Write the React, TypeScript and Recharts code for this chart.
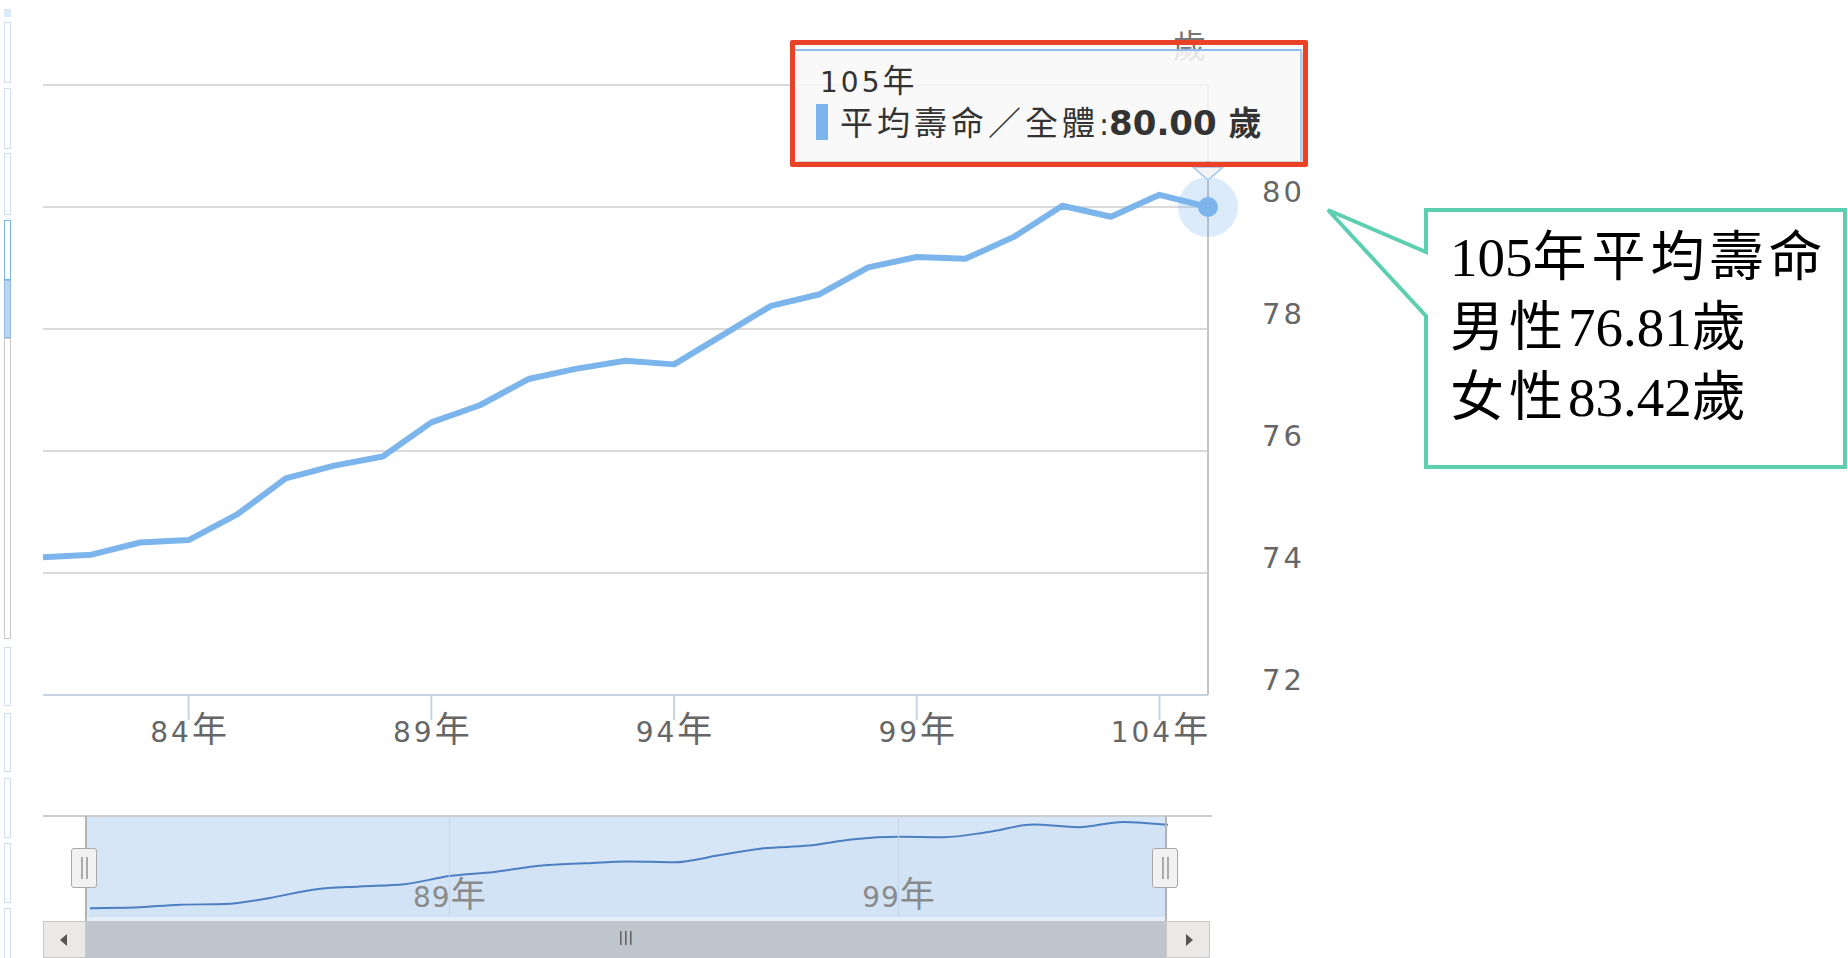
import React from "react";
import {
  LineChart, Line, AreaChart, Area, XAxis, YAxis, CartesianGrid,
  Tooltip, ReferenceLine,
} from "recharts";

// 平均壽命（全體），民國 81–105 年
const years = [
  "81年", "82年", "83年", "84年", "85年", "86年", "87年", "88年", "89年", "90年",
  "91年", "92年", "93年", "94年", "95年", "96年", "97年", "98年", "99年", "100年",
  "101年", "102年", "103年", "104年", "105年",
];
const lifeExpectancy = [
  74.26, 74.30, 74.50, 74.54, 74.96, 75.55, 75.76, 75.91, 76.47, 76.75,
  77.18, 77.35, 77.48, 77.42, 77.90, 78.38, 78.57, 79.01, 79.18, 79.15,
  79.51, 80.02, 79.84, 80.20, 80.00,
];
const xTicks = ["84年", "89年", "94年", "99年", "104年"];
const yTicks = [72, 74, 76, 78, 80, 82];
const navTicks = ["89年", "99年"];
const seriesName = "平均壽命／全體";
const unit = "歲";
const calloutLines = ["105年平均壽命", "男性76.81歲", "女性83.42歲"];

const data = years.map((year, i) => ({ year, value: lifeExpectancy[i] }));

const SANS = "'DejaVu Sans', 'Noto Sans CJK TC', sans-serif";
const CJK_FONT = "'Noto Sans CJK TC', sans-serif";
const SERIF = "'Liberation Serif', 'Noto Sans CJK TC', serif";

type Font = { fontFamily: string; fontSize: number; fontWeight?: number | string; letterSpacing?: number };

const CJK_RE = /[\u2E80-\u9FFF\uFF00-\uFFEF]/;
function splitRuns(text: string) {
  const out: { s: string; cjk: boolean }[] = [];
  for (const ch of text) {
    const c = CJK_RE.test(ch);
    const last = out[out.length - 1];
    if (last && last.cjk === c) last.s += ch;
    else out.push({ s: ch, cjk: c });
  }
  return out;
}

// latin in one font, CJK in another (the source renders them at different sizes)
function Mixed({ text, latin, cjk }: { text: string; latin: Font; cjk: Font }) {
  return (
    <>
      {splitRuns(text).map((r, i) => {
        const f = r.cjk ? cjk : latin;
        return (
          <tspan key={i} fontFamily={f.fontFamily} fontSize={f.fontSize}
            fontWeight={f.fontWeight ?? 400} letterSpacing={f.letterSpacing ?? 0}>
            {r.s}
          </tspan>
        );
      })}
    </>
  );
}

const axisLatin: Font = { fontFamily: SANS, fontSize: 28, letterSpacing: 3 };
const axisCjk: Font = { fontFamily: CJK_FONT, fontSize: 35 };

const XTick = (props: any) => {
  const { x, y, payload } = props;
  return (
    <text x={x} y={y} dy={22} textAnchor="middle" fill="#666">
      <Mixed text={payload.value} latin={axisLatin} cjk={axisCjk} />
    </text>
  );
};

const YTick = (props: any) => {
  const { x, y, payload } = props;
  if (payload.value === 82) return <g />;
  return (
    <text x={x + 54} y={y - 5} textAnchor="start" fill="#666"
      fontFamily={SANS} fontSize={29} letterSpacing={3}>
      {payload.value}
    </text>
  );
};

const ActiveDot = (props: any) => {
  const { cx, cy } = props;
  return (
    <g>
      <circle cx={cx} cy={cy} r={30} fill="#7cb5ec" fillOpacity={0.27} />
      <circle cx={cx} cy={cy} r={10} fill="#7cb5ec" />
    </g>
  );
};

const TipContent = (props: any) => {
  const { active, payload, label } = props;
  if (!active || !payload || !payload.length) return null;
  const v = Number(payload[0].value).toFixed(2);
  return (
    <div style={{ position: "relative", width: 518, height: 140 }}>
      <div style={{
        position: "absolute", left: 5, top: 9, width: 507, height: 112,
        background: "rgba(248,248,248,0.86)", borderTop: "2px solid #8dbdee",
        borderRight: "2px solid #a9cdf0", boxShadow: "2px 3px 4px rgba(0,0,0,0.2)",
        boxSizing: "border-box",
      }} />
      <svg width={518} height={140} style={{ position: "absolute", left: 0, top: 0, overflow: "visible" }}>
        <polygon points="403,127 418,140 433,127" fill="#f4f4f4" stroke="#9ec6ee" strokeWidth={1.5} />
        <text x={30} y={52} fill="#333">
          <Mixed text={String(label)} latin={axisLatin} cjk={{ fontFamily: CJK_FONT, fontSize: 32 }} />
        </text>
        <rect x={26} y={64} width={12} height={36} fill="#7cb5ec" />
        <text x={50} y={95} fill="#333">
          <tspan fontFamily={CJK_FONT} fontSize={33} letterSpacing={4}>{seriesName}</tspan>
          <tspan fontFamily={SANS} fontSize={30}>:</tspan>
          <tspan fontFamily={SANS} fontSize={34} fontWeight="bold">{v} </tspan>
          <tspan fontFamily={CJK_FONT} fontSize={33} fontWeight="bold">{unit}</tspan>
        </text>
      </svg>
      <div style={{
        position: "absolute", left: 0, top: 0, width: 518, height: 127,
        border: "5px solid #ea4127", boxSizing: "border-box", borderRadius: 2,
      }} />
    </div>
  );
};

const navLabel = (text: string) => (props: any) => {
  const vb = props.viewBox || {};
  return (
    <text x={vb.x} y={(vb.y ?? 0) + (vb.height ?? 0) - 10} textAnchor="middle" fill="#8a8a8a">
      <Mixed text={text} latin={{ ...axisLatin, letterSpacing: 1 }} cjk={axisCjk} />
    </text>
  );
};

// page decoration: edge of the neighbouring panel on the far left
const sideBoxes = [
  [9, 8, "#dbe9f8", "#dbe9f8"], [22, 61, "#fff", "#cfe0f3"], [88, 61, "#fff", "#cfe0f3"],
  [153, 62, "#fff", "#cfe0f3"], [220, 60, "#fff", "#7cb5ec"], [280, 58, "#bcd6ef", "#8fbbe6"],
  [338, 301, "#fff", "#c8c8c8"], [647, 59, "#fff", "#cfe0f3"], [713, 59, "#fff", "#cfe0f3"],
  [778, 60, "#fff", "#cfe0f3"], [843, 60, "#fff", "#cfe0f3"], [908, 60, "#fff", "#cfe0f3"],
] as const;

export default function App() {
  return (
    <div style={{ position: "absolute", left: 0, top: 0, width: 1848, height: 958, background: "#fff", overflow: "hidden" }}>
      {sideBoxes.map(([top, h, bg, bd], i) => (
        <div key={i} style={{ position: "absolute", left: 4, top, width: 7, height: h, background: bg, border: `1px solid ${bd}`, boxSizing: "border-box" }} />
      ))}

      {/* axis unit, partly hidden by the tooltip */}
      <div style={{ position: "absolute", left: 1173, top: 26, fontFamily: CJK_FONT, fontSize: 33, color: "#777", lineHeight: "36px" }}>{unit}</div>

      {/* main chart */}
      <div style={{ position: "absolute", left: 0, top: 0 }}>
        <LineChart width={1340} height={760} data={data} margin={{ top: 85, right: 32, bottom: 15, left: 43 }}>
          <CartesianGrid vertical={false} stroke="#dadada" strokeWidth={2} />
          <XAxis dataKey="year" ticks={xTicks} interval={0} height={50} tickSize={25} tickMargin={0}
            axisLine={{ stroke: "#c6d4e4", strokeWidth: 2 }} tickLine={{ stroke: "#c6d4e4", strokeWidth: 2 }}
            tick={XTick} />
          <YAxis orientation="right" domain={[72, 82]} ticks={yTicks} width={100} tickSize={0} tickMargin={0}
            axisLine={{ stroke: "#c4c4c4", strokeWidth: 2 }} tickLine={false} tick={YTick} />
          <Tooltip active defaultIndex={years.length - 1} position={{ x: 790, y: 40 }}
            cursor={false} isAnimationActive={false} content={TipContent} wrapperStyle={{ zIndex: 5 }} />
          <Line type="linear" dataKey="value" stroke="#7cb5ec" strokeWidth={6} dot={false}
            activeDot={ActiveDot} strokeLinejoin="round" isAnimationActive={false} />
        </LineChart>
      </div>

      {/* navigator */}
      <div style={{ position: "absolute", left: 43, top: 815, width: 1169, height: 2, background: "#cccccc" }} />
      <div style={{ position: "absolute", left: 86, top: 817, width: 1080, height: 100, background: "#d7e6f6" }} />
      <div style={{ position: "absolute", left: 86, top: 917, width: 1080, height: 4, background: "#e6eef8" }} />
      <div style={{ position: "absolute", left: 0, top: 780 }}>
        <AreaChart width={1260} height={160} data={data} margin={{ top: 36, right: 92, bottom: 23, left: 90 }}>
          <XAxis dataKey="year" hide />
          <YAxis hide domain={[73.65, 80.61]} />
          {navTicks.map((t) => (
            <ReferenceLine key={t} x={t} stroke="#c5d5e8" strokeWidth={1} label={navLabel(t)} />
          ))}
          <Area type="monotone" dataKey="value" stroke="#4b7fc2" strokeWidth={2}
            fill="#7cb5ec" fillOpacity={0.06} isAnimationActive={false} />
        </AreaChart>
      </div>
      <div style={{ position: "absolute", left: 85, top: 816, width: 2, height: 105, background: "#b4b4b4" }} />
      <div style={{ position: "absolute", left: 1165, top: 816, width: 2, height: 105, background: "#b4b4b4" }} />
      {[71, 1152].map((l) => (
        <div key={l} style={{ position: "absolute", left: l, top: 848, width: 26, height: 40, background: "#f1f1f1", border: "1px solid #a8a8a8", borderRadius: 3, boxSizing: "border-box" }}>
          <div style={{ position: "absolute", left: 9, top: 8, width: 2, height: 22, background: "#aaa" }} />
          <div style={{ position: "absolute", left: 14, top: 8, width: 2, height: 22, background: "#aaa" }} />
        </div>
      ))}

      {/* scrollbar */}
      <div style={{ position: "absolute", left: 86, top: 921, width: 1080, height: 37, background: "#bfc5cd" }} />
      <div style={{ position: "absolute", left: 43, top: 921, width: 43, height: 37, background: "#ebe8e8", border: "1px solid #c8c8c8", boxSizing: "border-box" }} />
      <div style={{ position: "absolute", left: 1166, top: 921, width: 44, height: 37, background: "#ebe8e8", border: "1px solid #c8c8c8", boxSizing: "border-box" }} />
      <svg width={1848} height={958} style={{ position: "absolute", left: 0, top: 0, pointerEvents: "none" }}>
        <polygon points="60,940 67,934 67,946" fill="#555" />
        <polygon points="1193,940 1186,934 1186,946" fill="#555" />
        {[620, 625, 630].map((x) => (
          <rect key={x} x={x} y={931} width={1.6} height={14} fill="#666" />
        ))}

        {/* callout */}
        <path d="M1426 210 H1845 V467 H1426 V316 L1328 210 L1426 252 Z" fill="#fff" stroke="#5dcfb0" strokeWidth={4} strokeLinejoin="miter" />
        {calloutLines.map((line, i) => (
          <text key={i} x={1450} y={276 + i * 70} fill="#000">
            <Mixed text={line}
              latin={{ fontFamily: SERIF, fontSize: 55 }}
              cjk={{ fontFamily: CJK_FONT, fontSize: 54, letterSpacing: 5 }} />
          </text>
        ))}
      </svg>
    </div>
  );
}
